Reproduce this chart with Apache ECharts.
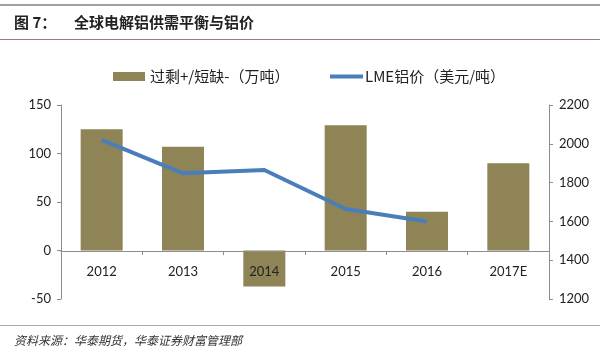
<!DOCTYPE html>
<html>
<head>
<meta charset="utf-8">
<script src="https://cdn.jsdelivr.net/npm/echarts@6/dist/echarts.min.js"></script>
<style>
  html, body { margin: 0; padding: 0; background: #fff; }
  #chart { width: 600px; height: 351px; }
</style>
</head>
<body>
<div id="chart"></div>
<script>
const years = ['2012', '2013', '2014', '2015', '2016', '2017E']
const balance = [125, 107, -37, 129, 40, 90]
const lmePrice = [2020, 1848, 1865, 1664, 1600, null]
const leftTicks = [-50, 150, 50]
const rightTicks = [1200, 2200, 200]

const cjk = '"Noto Sans CJK SC", "Noto Sans", sans-serif'
const num = 'Lato, "Open Sans", sans-serif'

const chart = echarts.init(document.getElementById('chart'))

chart.setOption({
  backgroundColor: '#fff',
  animation: false,
  title: [
    {
      text: '图 7：',
      left: 9, top: 10,
      textStyle: { fontFamily: cjk, fontSize: 15, fontWeight: 'bold', color: '#222' }
    },
    {
      text: '全球电解铝供需平衡与铝价',
      left: 69, top: 10,
      textStyle: { fontFamily: cjk, fontSize: 15, fontWeight: 'bold', color: '#222' }
    },
    {
      text: '资料来源：华泰期货，华泰证券财富管理部',
      left: 9, top: 329,
      textStyle: { fontFamily: cjk, fontSize: 12, fontWeight: 'normal', fontStyle: 'italic', color: '#333' }
    }
  ],
  graphic: [
    { type: 'rect', shape: { x: 0, y: 4, width: 600, height: 2 }, style: { fill: '#a0a0a0' } },
    { type: 'rect', shape: { x: 0, y: 39, width: 600, height: 1 }, style: { fill: '#9b7b76' } },
    { type: 'rect', shape: { x: 0, y: 325, width: 600, height: 1 }, style: { fill: '#aaaaaa' } }
  ],
  legend: [
    {
      top: 64,
      left: 108,
      itemWidth: 32,
      itemHeight: 9,
      itemGap: 6,
      textStyle: { fontFamily: cjk, fontSize: 15, color: '#222' },
      data: [{ name: '过剩+/短缺-（万吨）', icon: 'rect' }]
    },
    {
      top: 64,
      left: 325,
      itemWidth: 33,
      itemHeight: 4,
      textStyle: { fontFamily: cjk, fontSize: 15, color: '#222', padding: [0, 0, 0, -3] },
      data: [{ name: 'LME铝价（美元/吨）', icon: 'rect' }]
    }
  ],
  grid: { left: 61, right: 51, top: 105, bottom: 52 },
  xAxis: {
    type: 'category',
    data: years,
    offset: -48,
    z: 10,
    axisLine: { onZero: false, lineStyle: { color: '#8c8c8c', width: 1 } },
    axisTick: { show: true, length: 4, inside: false, lineStyle: { color: '#8c8c8c' } },
    axisLabel: { fontFamily: num, fontSize: 13, color: '#222', margin: 14 }
  },
  yAxis: [
    {
      type: 'value',
      min: leftTicks[0], max: leftTicks[1], interval: leftTicks[2],
      axisLine: { show: true, lineStyle: { color: '#8c8c8c' } },
      axisTick: { show: true, length: 4, lineStyle: { color: '#8c8c8c' } },
      axisLabel: { fontFamily: num, fontSize: 13, color: '#222', margin: 10 },
      splitLine: { show: false }
    },
    {
      type: 'value',
      min: rightTicks[0], max: rightTicks[1], interval: rightTicks[2],
      axisLine: { show: true, lineStyle: { color: '#8c8c8c' } },
      axisTick: { show: true, length: 4, lineStyle: { color: '#8c8c8c' } },
      axisLabel: { fontFamily: num, fontSize: 13, color: '#222', margin: 10, formatter: v => String(v) },
      splitLine: { show: false }
    }
  ],
  series: [
    {
      name: '过剩+/短缺-（万吨）',
      type: 'bar',
      data: balance,
      barWidth: 42,
      z: 3,
      itemStyle: { color: '#8e8456' }
    },
    {
      name: 'LME铝价（美元/吨）',
      type: 'line',
      yAxisIndex: 1,
      data: lmePrice,
      symbol: 'none',
      z: 4,
      lineStyle: { color: '#4a7ebb', width: 4 },
      itemStyle: { color: '#4a7ebb' }
    }
  ]
})
</script>
</body>
</html>
